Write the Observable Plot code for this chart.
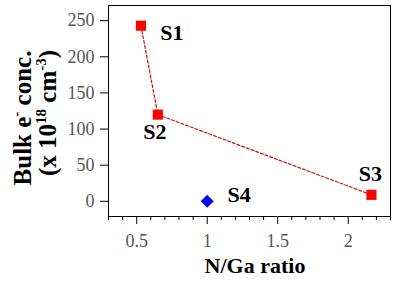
<!DOCTYPE html>
<html>
<head>
<meta charset="utf-8">
<script src="https://cdn.jsdelivr.net/npm/d3@7"></script>
<script src="https://cdn.jsdelivr.net/npm/@observablehq/plot@0.6"></script>
<style>
  html, body { margin: 0; padding: 0; background: #fff; }
  svg text { font-family: "Liberation Serif", "Times New Roman", Times, "DejaVu Serif", serif !important; }
</style>
</head>
<body>
<div id="chart"></div>
<script>
// Data
const sampleNames = ["S1", "S2", "S3"];
const ratioNGa = [0.53, 0.65, 2.165];
const bulkConc = [243, 120, 9];

const refName = ["S4"];
const refRatio = [1.0];
const refConc = [0];

const xMajorTicks = [0.5, 1, 1.5, 2];
const xMinorTicks = [0.3, 0.4, 0.6, 0.7, 0.8, 0.9, 1.1, 1.2, 1.3, 1.4, 1.6, 1.7, 1.8, 1.9, 2.1, 2.2, 2.3];
const yTicks = [0, 50, 100, 150, 200, 250];

const series = sampleNames.map((name, i) => ({name, x: ratioNGa[i], y: bulkConc[i]}));
const refSeries = refName.map((name, i) => ({name, x: refRatio[i], y: refConc[i]}));

const labelOffsets = {S1: [31, 7], S2: [-3, 17], S3: [-1, -21], S4: [32, -6]};

const FONT = "Liberation Serif, Times New Roman, Times, DejaVu Serif, serif";

const plot = Plot.plot({
  width: 406,
  height: 288,
  marginLeft: 108,
  marginRight: 16,
  marginTop: 5,
  marginBottom: 72,
  style: {fontFamily: FONT, fontSize: "18px", background: "#fff", color: "#000"},
  x: {domain: [0.3, 2.3], label: null},
  y: {domain: [-21, 271], label: null},
  marks: [
    Plot.frame({stroke: "#000", strokeWidth: 1}),
    Plot.axisY(yTicks, {tickSize: 8, text: null, label: null, strokeWidth: 1}),
    Plot.axisY(yTicks, {tickSize: 0, tickPadding: 14, color: "#555", label: null, fontSize: 18}),
    Plot.axisX(xMajorTicks, {tickSize: 8, text: null, label: null}),
    Plot.axisX(xMinorTicks, {tickSize: 4, text: null, label: null}),
    Plot.axisX(xMajorTicks, {tickSize: 0, tickPadding: 18, color: "#555", label: null, fontSize: 18, tickFormat: d => String(d)}),
    Plot.line(series, {x: "x", y: "y", stroke: "#cc1010", strokeWidth: 1.2, strokeDasharray: "3,2"}),
    Plot.dot(series, {x: "x", y: "y", symbol: "square", r: 5.7, fill: "#ff0000", stroke: "none"}),
    Plot.dot(refSeries, {x: "x", y: "y", symbol: "diamond2", r: 5.9, fill: "#0a0af0", stroke: "none"}),
    ...[...series, ...refSeries].map(d => Plot.text([d], {
      x: "x", y: "y", text: "name",
      dx: labelOffsets[d.name][0], dy: labelOffsets[d.name][1],
      fontSize: 22, fontWeight: "bold", fill: "#000"
    }))
  ]
});

const svg = d3.select(plot);
// x-axis title
svg.append("text")
  .attr("x", 255).attr("y", 273)
  .attr("text-anchor", "middle")
  .attr("font-weight", "bold").attr("font-size", 22)
  .attr("fill", "#000")
  .text("N/Ga ratio");

// y-axis title, two lines with superscripts
const t1 = svg.append("text")
  .attr("transform", "translate(31,118) rotate(-90)")
  .attr("text-anchor", "middle")
  .attr("font-weight", "bold").attr("font-size", 25)
  .attr("fill", "#000");
t1.append("tspan").text("Bulk e");
t1.append("tspan").attr("font-size", 15).attr("dy", -10).text("-");
t1.append("tspan").attr("dy", 10).text(" conc.");

const t2 = svg.append("text")
  .attr("transform", "translate(56,113) rotate(-90)")
  .attr("text-anchor", "middle")
  .attr("font-weight", "bold").attr("font-size", 25)
  .attr("fill", "#000");
t2.append("tspan").text("(x 10");
t2.append("tspan").attr("font-size", 15).attr("dy", -10).text("18");
t2.append("tspan").attr("dy", 10).text(" cm");
t2.append("tspan").attr("font-size", 15).attr("dy", -10).text("-3");
t2.append("tspan").attr("dy", 10).text(")");

document.getElementById("chart").appendChild(plot);
</script>
</body>
</html>
